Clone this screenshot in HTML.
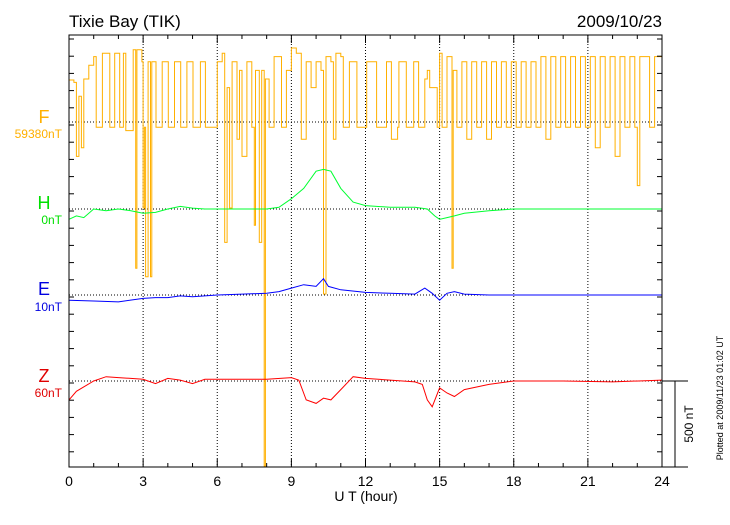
<!DOCTYPE html>
<html><head><meta charset="utf-8"><style>
body{margin:0;background:#fff;width:730px;height:520px;overflow:hidden;font-family:"Liberation Sans",sans-serif}
</style></head><body>
<svg id="chart" width="730" height="520" xmlns="http://www.w3.org/2000/svg" font-family="Liberation Sans, sans-serif">
<text x="69" y="27" font-size="17">Tixie Bay (TIK)</text>
<text x="662" y="27" font-size="17" text-anchor="end">2009/10/23</text>
<g id="grid"></g>
<g id="series"></g>
<g id="axes"></g>
<text x="366" y="501" font-size="14" text-anchor="middle">U T (hour)</text>
<text x="44" y="123" font-size="18" fill="#ffb000" text-anchor="middle">F</text>
<text x="62" y="138" font-size="12" fill="#ffb000" text-anchor="end">59380nT</text>
<text x="44" y="209" font-size="18" fill="#00e000" text-anchor="middle">H</text>
<text x="62" y="224" font-size="12" fill="#00e000" text-anchor="end">0nT</text>
<text x="44" y="295" font-size="18" fill="#0000e0" text-anchor="middle">E</text>
<text x="62" y="311" font-size="12" fill="#0000e0" text-anchor="end">10nT</text>
<text x="44" y="382" font-size="18" fill="#e00000" text-anchor="middle">Z</text>
<text x="62" y="397" font-size="12" fill="#e00000" text-anchor="end">60nT</text>
<line x1="675" y1="381" x2="675" y2="467" stroke="#000"/>
<line x1="662" y1="381" x2="688" y2="381" stroke="#000"/>
<line x1="662" y1="467" x2="688" y2="467" stroke="#000"/>
<text transform="translate(693,424) rotate(-90)" font-size="12" text-anchor="middle">500 nT</text>
<text transform="translate(723,398) rotate(-90)" font-size="9" text-anchor="middle">Plotted at 2009/11/23 01:02 UT</text>
</svg>
<script>
const xTicks=[0,3,6,9,12,15,18,21,24];
const fT=[0,0.2,0.3,0.4,0.5,0.6,0.8,1.0,1.1,1.3,1.35,1.6,1.65,1.8,1.85,2.0,2.05,2.2,2.3,2.6,2.7,2.75,2.95,3.0,3.05,3.1,3.2,3.3,3.35,3.5,3.52,3.75,3.77,4.0,4.02,4.25,4.27,4.5,4.52,4.75,4.77,5.0,5.02,5.3,5.32,5.5,5.52,5.9,6.0,6.2,6.3,6.4,6.5,6.6,6.8,6.9,7.0,7.2,7.4,7.5,7.55,7.7,7.8,7.9,7.95,8.1,8.3,8.5,8.6,8.8,9.0,9.2,9.4,9.6,9.8,10.0,10.2,10.3,10.4,10.6,10.7,10.8,11.0,11.1,11.3,11.35,11.6,11.65,12.0,12.05,12.4,12.45,12.8,12.85,13.0,13.05,13.3,13.35,13.6,13.65,13.9,13.95,14.1,14.15,14.3,14.4,14.5,14.6,14.9,15.0,15.1,15.3,15.5,15.55,15.7,15.9,16.1,16.3,16.5,16.7,16.9,17.1,17.3,17.5,17.7,17.9,18.1,18.3,18.5,18.7,18.9,19.1,19.3,19.5,19.7,19.9,20.1,20.3,20.5,20.7,20.9,21.1,21.3,21.5,21.7,21.9,22.1,22.3,22.5,22.7,22.9,23.0,23.1,23.3,23.5,23.7,24];
const fV=[244,230,-200,150,-150,250,330,380,-30,-30,400,400,-30,-30,400,400,-30,400,-50,420,-850,420,350,-500,-30,-900,350,-900,350,350,-30,-30,350,350,-30,-30,350,350,-30,-30,350,350,-30,-30,350,350,-30,-30,350,400,-700,200,-500,350,-100,300,-200,350,-30,-600,300,-700,300,-2000,250,-30,380,380,-30,300,430,400,-100,350,200,350,300,-1000,380,350,-100,400,380,-30,-30,350,350,-30,-30,350,350,-30,-30,350,350,-100,-30,350,350,-30,-30,350,350,-30,-30,250,300,200,-30,400,-30,380,-850,300,-30,350,-100,350,-30,350,-100,350,-30,350,-30,350,-30,350,-30,350,-30,380,-100,380,-30,380,-30,380,-30,380,-30,380,-150,380,-30,380,-200,380,-30,380,-30,-370,380,380,-30,380,380];
const hT=[0,0.3,0.6,1,1.5,2,2.5,3,3.5,4,4.5,5,5.5,6,7,8,8.5,9,9.5,10,10.3,10.6,11,11.5,12,13,14,14.5,14.8,15,15.3,15.6,16,17,18,20,22,24];
const hV=[-60,-40,-50,0,-10,0,-10,-25,-20,0,15,5,0,0,0,0,10,60,120,220,230,220,120,40,20,10,10,0,-40,-60,-50,-40,-25,-10,0,0,0,0];
const eT=[0,1,2,3,3.5,4,4.5,5,6,7,8,8.5,9,9.5,10,10.3,10.5,11,12,13,14,14.4,14.7,15,15.3,15.6,16,17,20,24];
const eV=[-30,-35,-40,-20,-15,-15,-5,-10,0,5,10,20,40,60,50,95,50,30,15,10,5,40,10,-30,10,20,5,0,0,0];
const zT=[0,0.3,1,1.5,2,2.5,3,3.5,4,4.5,5,5.5,6,7,8,9,9.3,9.6,10,10.3,10.6,11,11.5,12,13,13.5,14,14.3,14.5,14.7,15,15.3,15.6,16,17,18,20,22,24];
const zV=[-110,-60,0,25,20,15,10,-15,15,5,-15,10,10,10,10,20,5,-110,-130,-100,-110,-50,25,15,5,0,-5,-20,-110,-150,-40,-70,-90,-50,-20,0,0,-5,5];
const X0=69,X1=662,Y0=35,Y1=467,PXNT=86/500;
const x=t=>X0+(X1-X0)*t/24;
const y=(base,v)=>base-v*PXNT;
const NS="http://www.w3.org/2000/svg";
function mk(tag,attrs,parent){const e=document.createElementNS(NS,tag);for(const k in attrs)e.setAttribute(k,attrs[k]);parent.appendChild(e);return e;}
const grid=document.getElementById('grid'),axes=document.getElementById('axes'),ser=document.getElementById('series');
[122,209,295,381].forEach(b=>{const l=mk('line',{x1:X0,x2:X1,y1:b,y2:b,stroke:'#000','stroke-dasharray':'1,2'},grid);

});
xTicks.slice(1,-1).forEach(t=>{const l=mk('line',{x1:x(t),x2:x(t),y1:Y0,y2:Y1,stroke:'#000','stroke-dasharray':'1,2'},grid);

});
function drawSeries(T,V,base,color,name,step){
 let d='';T.forEach((t,i)=>{const yy=Math.min(Y1,y(base,V[i])).toFixed(1);
  if(i===0)d+='M'+x(t).toFixed(1)+','+yy;
  else if(step)d+='H'+x(t).toFixed(1)+'V'+yy;
  else d+='L'+x(t).toFixed(1)+','+yy;});
 const p=mk('path',{d:d,fill:'none',stroke:color,'stroke-width':1},ser);
 
 
}
drawSeries(fT,fV,122,'#ffb000','f-series',true);
drawSeries(hT,hV,209,'#00ff30','h-series',false);
drawSeries(eT,eV,295,'#0000ff','e-series',false);
drawSeries(zT,zV,381,'#ff0000','z-series',false);
const box=mk('rect',{x:X0,y:Y0,width:X1-X0,height:Y1-Y0,fill:'none',stroke:'#000'},axes);


for(let h=0;h<=24;h++){const big=h%3===0;
 mk('line',{x1:x(h),x2:x(h),y1:Y1,y2:Y1-(big?8:4),stroke:'#000'},axes);
 mk('line',{x1:x(h),x2:x(h),y1:Y0,y2:Y0+(big?8:4),stroke:'#000'},axes);}
for(let v=Y0+4;v<Y1;v+=17.2){mk('line',{x1:X0,x2:X0+5,y1:v,y2:v,stroke:'#000'},axes);mk('line',{x1:X1,x2:X1-5,y1:v,y2:v,stroke:'#000'},axes);}
xTicks.forEach(t=>{const tx=mk('text',{x:x(t),y:486,'font-size':14,'text-anchor':'middle'},axes);tx.textContent=t;

});
</script>
</body></html>
